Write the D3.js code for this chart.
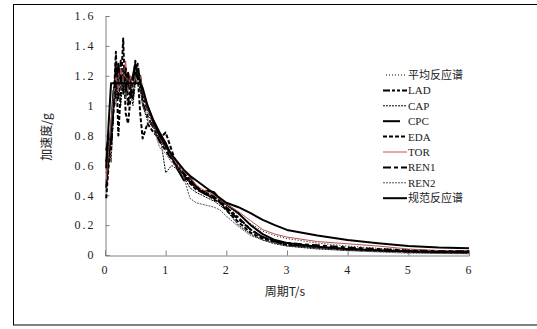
<!DOCTYPE html>
<html>
<head>
<meta charset="utf-8">
<script src="https://cdn.jsdelivr.net/npm/d3@7"></script>
<style>
  html, body { margin: 0; padding: 0; background: #fff; }
  svg { display: block; }
  .tick-label { font-family: "Liberation Serif", "DejaVu Serif", serif; font-size: 12px; fill: #222; }
  .title { font-family: "Noto Sans CJK SC", "Liberation Serif", sans-serif; font-size: 12px; fill: #222; }
  .legend { font-family: "Liberation Serif", "Noto Sans CJK SC", serif; font-size: 11px; fill: #222; }
</style>
</head>
<body>
<script>
// periods (s)
const periods = [0.02, 0.06, 0.10, 0.14, 0.18, 0.22, 0.26, 0.30, 0.34, 0.38, 0.42, 0.46, 0.50, 0.54, 0.58, 0.62,
  0.70, 0.80, 0.90, 1.00, 1.10, 1.20, 1.30, 1.40, 1.50, 1.60, 1.70, 1.80, 1.90, 2.00,
  2.20, 2.40, 2.60, 2.80, 3.00, 3.50, 4.00, 4.50, 5.00, 5.50, 6.00];

// spectral acceleration (g)
const meanSpec = [0.55, 0.68, 0.82, 0.98, 1.10, 1.12, 1.15, 1.20, 1.13, 1.12, 1.10, 1.14, 1.18, 1.15, 1.10, 1.03,
  0.95, 0.86, 0.80, 0.70, 0.64, 0.59, 0.55, 0.50, 0.46, 0.43, 0.41, 0.39, 0.36, 0.33,
  0.27, 0.21, 0.16, 0.13, 0.11, 0.08, 0.06, 0.045, 0.035, 0.03, 0.025];
const lad = [0.62, 0.75, 0.70, 1.02, 1.25, 1.05, 1.30, 1.08, 1.22, 1.00, 1.15, 1.05, 1.22, 1.20, 1.12, 1.05,
  0.98, 0.88, 0.78, 0.72, 0.65, 0.60, 0.55, 0.50, 0.46, 0.43, 0.41, 0.39, 0.36, 0.32,
  0.25, 0.17, 0.12, 0.09, 0.065, 0.05, 0.035, 0.028, 0.022, 0.018, 0.015];
const cap = [0.72, 0.80, 0.62, 0.95, 1.15, 1.20, 1.00, 1.25, 1.05, 1.18, 1.10, 1.00, 1.15, 1.25, 1.15, 1.00,
  0.90, 0.85, 0.82, 0.55, 0.60, 0.57, 0.52, 0.45, 0.42, 0.40, 0.38, 0.36, 0.33, 0.30,
  0.20, 0.14, 0.10, 0.075, 0.06, 0.04, 0.03, 0.025, 0.018, 0.012, 0.01];
const cpc = [0.45, 0.65, 0.85, 1.10, 1.05, 1.28, 1.15, 1.20, 1.10, 1.22, 1.15, 1.20, 1.28, 1.18, 1.20, 1.08,
  1.00, 0.90, 0.82, 0.75, 0.66, 0.57, 0.50, 0.52, 0.46, 0.42, 0.43, 0.42, 0.37, 0.34,
  0.28, 0.20, 0.14, 0.10, 0.08, 0.055, 0.04, 0.032, 0.025, 0.022, 0.02];
const eda = [0.38, 0.60, 0.78, 1.00, 1.36, 0.80, 1.10, 1.45, 0.95, 0.88, 1.05, 1.15, 1.30, 1.20, 0.95, 0.78,
  0.88, 0.82, 0.78, 0.82, 0.70, 0.58, 0.54, 0.48, 0.44, 0.42, 0.40, 0.37, 0.35, 0.30,
  0.22, 0.15, 0.11, 0.085, 0.07, 0.05, 0.04, 0.03, 0.025, 0.02, 0.018];
const tor = [0.50, 0.70, 0.90, 1.05, 1.20, 1.10, 1.25, 1.15, 1.30, 1.10, 1.20, 1.12, 1.20, 1.22, 1.20, 1.10,
  0.98, 0.88, 0.78, 0.72, 0.66, 0.60, 0.56, 0.52, 0.47, 0.44, 0.42, 0.40, 0.37, 0.34,
  0.29, 0.23, 0.17, 0.14, 0.12, 0.09, 0.075, 0.06, 0.04, 0.03, 0.03];
const ren1 = [0.70, 0.78, 0.75, 0.95, 1.30, 1.15, 1.20, 1.10, 1.25, 1.15, 1.05, 1.20, 1.15, 1.28, 1.15, 1.02,
  0.93, 0.85, 0.76, 0.70, 0.64, 0.58, 0.53, 0.49, 0.45, 0.42, 0.40, 0.38, 0.35, 0.31,
  0.24, 0.17, 0.12, 0.095, 0.08, 0.065, 0.05, 0.04, 0.03, 0.025, 0.025];
const ren2 = [0.60, 0.72, 0.88, 1.10, 1.00, 1.22, 1.10, 1.18, 1.05, 1.12, 1.15, 1.10, 1.20, 1.15, 1.12, 1.00,
  0.92, 0.85, 0.72, 0.68, 0.62, 0.58, 0.52, 0.38, 0.35, 0.34, 0.33, 0.32, 0.30, 0.26,
  0.19, 0.13, 0.10, 0.08, 0.06, 0.045, 0.03, 0.02, 0.012, 0.01, 0.008];
const codeSpec = [0.58, 0.88, 1.15, 1.15, 1.15, 1.15, 1.15, 1.15, 1.15, 1.15, 1.15, 1.15, 1.15, 1.15, 1.15, 1.12,
  1.00, 0.89, 0.80, 0.73, 0.67, 0.62, 0.57, 0.53, 0.50, 0.47, 0.44, 0.41, 0.38, 0.35,
  0.32, 0.28, 0.235, 0.20, 0.168, 0.13, 0.10, 0.078, 0.06, 0.05, 0.045];

const seriesNames = ["平均反应谱", "LAD", "CAP", "CPC", "EDA", "TOR", "REN1", "REN2", "规范反应谱"];
const seriesValues = [meanSpec, lad, cap, cpc, eda, tor, ren1, ren2, codeSpec];

const xTicks = [0, 1, 2, 3, 4, 5, 6];
const yTicks = [0, 0.2, 0.4, 0.6, 0.8, 1.0, 1.2, 1.4, 1.6];

// line look for each series, same order as seriesNames
const looks = [
  { color: "#000", width: 1, dash: "1,2" },
  { color: "#000", width: 2, dash: "7,2,3,2,3,2" },
  { color: "#000", width: 1, dash: "2,1" },
  { color: "#000", width: 2, dash: null },
  { color: "#000", width: 2, dash: "4,2" },
  { color: "#c0504d", width: 1, dash: null },
  { color: "#000", width: 2, dash: "8,3,4,3" },
  { color: "#555", width: 1, dash: "2,1" },
  { color: "#000", width: 2, dash: null }
];

const W = 537, H = 329;
const svg = d3.select("body").append("svg").attr("width", W).attr("height", H);

// frame round the whole chart
svg.append("rect").attr("x", 13.5).attr("y", 4.5).attr("width", 540).attr("height", 320.5)
  .attr("fill", "none").attr("stroke", "#000").attr("stroke-width", 1);

const x = d3.scaleLinear().domain([0, 6]).range([105, 469]);
const y = d3.scaleLinear().domain([0, 1.6]).range([255, 16]);

svg.append("clipPath").attr("id", "plot")
  .append("rect").attr("x", 105).attr("y", 10).attr("width", 366).attr("height", 246);

// axes
const gx = svg.append("g").attr("transform", "translate(0,255.5)")
  .call(d3.axisBottom(x).tickValues(xTicks).tickSize(-5).tickPadding(10).tickFormat(d3.format("d")));
const gy = svg.append("g").attr("transform", "translate(105.5,0)")
  .call(d3.axisLeft(y).tickValues(yTicks).tickSize(-4).tickPadding(10)
    .tickFormat(d => d === 0 ? "0" : (d % 1 === 0 ? String(d) : d3.format(".1f")(d))));

[gx, gy].forEach(g => {
  g.select(".domain").attr("stroke", "#808080");
  g.selectAll(".tick line").attr("stroke", "#808080");
  g.selectAll(".tick text").attr("class", "tick-label").attr("fill", null);
});
gy.selectAll(".tick text").attr("letter-spacing", "2px");
gx.selectAll(".tick text").attr("dx", "-1");

// curves
const line = d3.line().x((d, i) => x(periods[i])).y(d => y(d));
const curves = svg.append("g").attr("clip-path", "url(#plot)");
seriesValues.forEach((vals, k) => {
  const lk = looks[k];
  curves.append("path")
    .attr("d", line(vals))
    .attr("fill", "none")
    .attr("stroke", lk.color)
    .attr("stroke-width", lk.width)
    .attr("stroke-dasharray", lk.dash)
    .attr("stroke-linejoin", "round");
});

// axis titles
svg.append("text").attr("class", "title").attr("x", 285).attr("y", 296)
  .attr("text-anchor", "middle").text("周期T/s");
svg.append("text").attr("class", "title")
  .attr("transform", "translate(51,137) rotate(-90)")
  .attr("text-anchor", "middle").text("加速度/g");

// legend
const legend = svg.append("g");
seriesNames.forEach((name, k) => {
  const lk = looks[k];
  const yy = 75 + k * 15.4;
  const x0 = k === 0 ? 386 : 383;
  const x1 = k === 3 ? 400 : 407;
  legend.append("line").attr("x1", x0).attr("x2", x1).attr("y1", yy).attr("y2", yy)
    .attr("stroke", lk.color).attr("stroke-width", lk.width).attr("stroke-dasharray", lk.dash);
  legend.append("text").attr("class", "legend").attr("x", 408).attr("y", yy + 4).text(name);
});
</script>
</body>
</html>
